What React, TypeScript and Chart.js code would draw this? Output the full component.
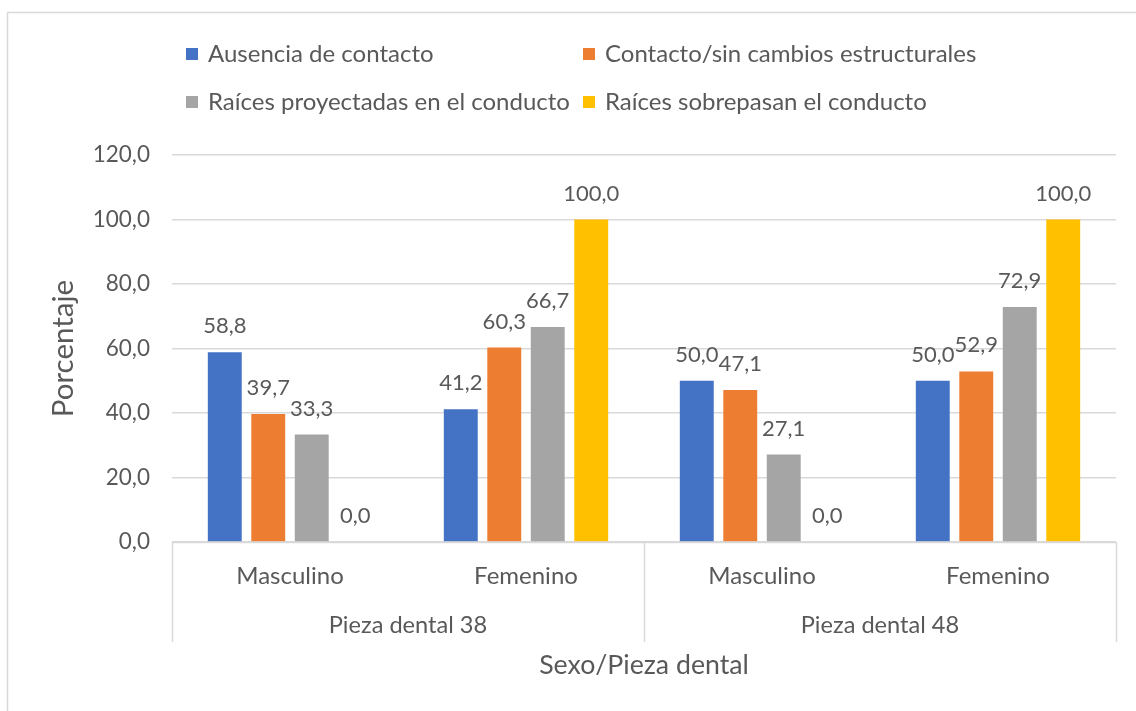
import React, { useEffect, useRef } from "react";
import { Chart, registerables } from "chart.js";

Chart.register(...registerables);

const categories = ["Masculino", "Femenino", "Masculino", "Femenino"];
const groupLabels = ["Pieza dental 38", "Pieza dental 48"];
const seriesNames = [
  "Ausencia de contacto",
  "Contacto/sin cambios estructurales",
  "Raíces proyectadas en el conducto",
  "Raíces sobrepasan el conducto",
];
const ausencia = [58.8, 41.2, 50.0, 50.0];
const contacto = [39.7, 60.3, 47.1, 52.9];
const proyectadas = [33.3, 66.7, 27.1, 72.9];
const sobrepasan = [0.0, 100.0, 0.0, 100.0];
const seriesColors = ["#4472C4", "#ED7D31", "#A5A5A5", "#FFC000"];
const yTitle = "Porcentaje";
const xTitle = "Sexo/Pieza dental";
const yMin = 0;
const yMax = 120;
const yStep = 20;

const FONT = "Lato, 'Open Sans', sans-serif";
const TEXT = "#595959";
const LINE = "#D9D9D9";

const fmt = (v: number) => v.toFixed(1).replace(".", ",");

const frame = {
  id: "frame",
  beforeDraw(chart: any) {
    const ctx = chart.ctx;
    ctx.save();
    ctx.fillStyle = "#ffffff";
    ctx.fillRect(0, 0, chart.width, chart.height);
    ctx.strokeStyle = LINE;
    ctx.lineWidth = 1.5;
    ctx.beginPath();
    ctx.moveTo(7.5, chart.height);
    ctx.lineTo(7.5, 12.5);
    ctx.lineTo(chart.width, 12.5);
    ctx.stroke();
    ctx.restore();
  },
};

const legendPlugin = {
  id: "customLegend",
  afterDraw(chart: any) {
    const ctx = chart.ctx;
    const cols = [186, 583];
    const rows = [54, 102];
    ctx.save();
    ctx.font = `24px ${FONT}`;
    ctx.textBaseline = "middle";
    ctx.textAlign = "left";
    chart.data.datasets.forEach((ds: any, i: number) => {
      const x = cols[i % 2];
      const y = rows[Math.floor(i / 2)];
      ctx.fillStyle = ds.backgroundColor;
      ctx.fillRect(x, y - 6, 12, 12);
      ctx.fillStyle = TEXT;
      ctx.fillText(ds.label, x + 22, y);
    });
    ctx.restore();
  },
};

const dataLabels = {
  id: "dataLabels",
  afterDatasetsDraw(chart: any) {
    const ctx = chart.ctx;
    ctx.save();
    ctx.font = `22px ${FONT}`;
    ctx.fillStyle = TEXT;
    ctx.textAlign = "center";
    ctx.textBaseline = "middle";
    chart.data.datasets.forEach((ds: any, i: number) => {
      const meta = chart.getDatasetMeta(i);
      meta.data.forEach((bar: any, j: number) => {
        ctx.fillText(fmt(ds.data[j]), bar.x, bar.y - 26);
      });
    });
    ctx.restore();
  },
};

const categoryAxis = {
  id: "categoryAxis",
  afterDraw(chart: any) {
    const ctx = chart.ctx;
    const area = chart.chartArea;
    const xs = chart.scales.x;
    const bottom = area.bottom;
    ctx.save();
    ctx.strokeStyle = LINE;
    ctx.lineWidth = 1.5;
    ctx.beginPath();
    ctx.moveTo(area.left, bottom + 0.5);
    ctx.lineTo(area.right, bottom + 0.5);
    const mid = (xs.getPixelForValue(1) + xs.getPixelForValue(2)) / 2;
    [area.left, mid, area.right].forEach((x: number) => {
      ctx.moveTo(Math.round(x) + 0.5, bottom);
      ctx.lineTo(Math.round(x) + 0.5, bottom + 100);
    });
    ctx.stroke();

    ctx.fillStyle = TEXT;
    ctx.textAlign = "center";
    ctx.textBaseline = "middle";
    ctx.font = `24px ${FONT}`;
    categories.forEach((c, i) => {
      ctx.fillText(c, xs.getPixelForValue(i), bottom + 34);
    });
    const bounds = [area.left, mid, area.right];
    ctx.font = `23.6px ${FONT}`;
    groupLabels.forEach((g, i) => {
      ctx.fillText(g, (bounds[i] + bounds[i + 1]) / 2, bottom + 83);
    });
    ctx.font = `26.7px ${FONT}`;
    ctx.fillText(xTitle, (area.left + area.right) / 2, bottom + 123);
    ctx.restore();
  },
};

export default function App() {
  const ref = useRef<HTMLCanvasElement>(null);
  useEffect(() => {
    if (!ref.current) return;
    const chart = new Chart(ref.current, {
      type: "bar",
      data: {
        labels: categories,
        datasets: [ausencia, contacto, proyectadas, sobrepasan].map((d, i) => ({
          label: seriesNames[i],
          data: d,
          backgroundColor: seriesColors[i],
          borderWidth: 0,
          categoryPercentage: 0.737,
          barPercentage: 0.78,
        })),
      },
      options: {
        responsive: false,
        animation: false,
        layout: { padding: { left: 8, right: 20, top: 155, bottom: 169 } },
        plugins: {
          legend: { display: false },
          tooltip: { enabled: false },
        },
        scales: {
          x: {
            display: false,
          },
          y: {
            min: yMin,
            max: yMax,
            ticks: {
              stepSize: yStep,
              padding: 22,
              color: TEXT,
              font: { family: FONT, size: 22.5 },
              callback: (v: any) => fmt(Number(v)),
            },
            grid: { color: LINE, lineWidth: 1.5, drawTicks: false },
            border: { display: false },
            title: {
              display: true,
              text: yTitle,
              color: TEXT,
              font: { family: FONT, size: 29.5 },
              padding: { top: 38, bottom: 0 },
            },
            afterFit: (scale: any) => {
              scale.width = 164;
            },
          },
        },
      },
      plugins: [frame, legendPlugin, dataLabels, categoryAxis],
    });
    return () => chart.destroy();
  }, []);
  return (
    <div style={{ position: "absolute", left: 0, top: 0, width: 1136, height: 711 }}>
      <canvas ref={ref} width={1136} height={711} style={{ display: "block" }} />
    </div>
  );
}
